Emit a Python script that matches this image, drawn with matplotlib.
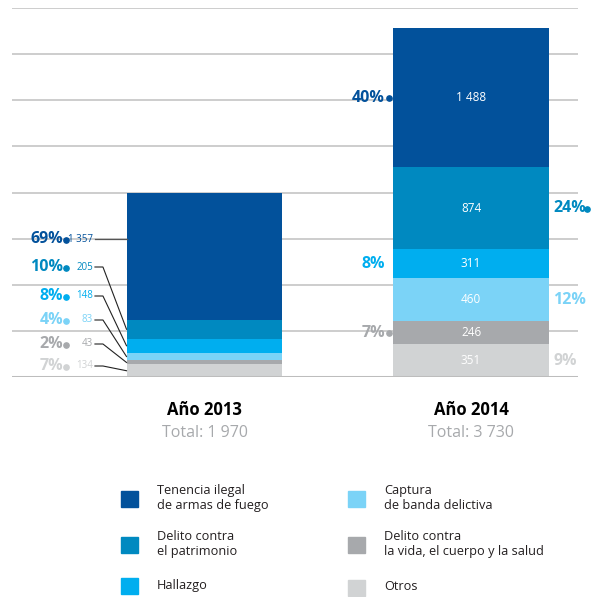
import matplotlib.pyplot as plt
from matplotlib.patches import Rectangle

plt.rcParams['font.family'] = ['Open Sans', 'DejaVu Sans']

# Datos
anios = ["Año 2013", "Año 2014"]
totales = ["Total: 1 970", "Total: 3 730"]
categorias = ["Tenencia ilegal\nde armas de fuego",
              "Delito contra\nel patrimonio",
              "Hallazgo",
              "Captura\nde banda delictiva",
              "Delito contra\nla vida, el cuerpo y la salud",
              "Otros"]
v2013 = [1357, 205, 148, 83, 43, 134]
v2014 = [1488, 874, 311, 460, 246, 351]
p2013 = ["69%", "10%", "8%", "4%", "2%", "7%"]
p2014 = ["40%", "24%", "8%", "12%", "7%", "9%"]
etq2013 = ["1 357", "205", "148", "83", "43", "134"]
etq2014 = ["1 488", "874", "311", "460", "246", "351"]

colores = ["#02519B", "#0089C0", "#00AEEF", "#7BD3F7", "#A7A9AC", "#D1D3D4"]

W, H = 591, 597
fig = plt.figure(figsize=(W / 100, H / 100), dpi=100)
ax = fig.add_axes([12 / W, (H - 377) / H, 566 / W, 369 / H])

ymax = 3730 * 369 / 349
ax.set_ylim(0, ymax)
ax.set_xlim(-0.722, 1.401)
ax.axis('off')

# lineas de fondo
for i in range(1, 9):
    ax.axhline(ymax * i / 8, color="#C9C9C9", lw=1.3, zorder=0)
ax.axhline(0, color="#BDBDBD", lw=2.2, zorder=3)

ancho = 0.585
# barras apiladas (de abajo hacia arriba: Otros primero)
pos2013 = {}
pos2014 = {}
base = 0
for i in reversed(range(6)):
    ax.bar(0, v2013[i], width=ancho, bottom=base, color=colores[i], zorder=2)
    pos2013[i] = base + v2013[i] / 2
    base += v2013[i]
base = 0
for i in reversed(range(6)):
    ax.bar(1, v2014[i], width=ancho, bottom=base, color=colores[i], zorder=2)
    pos2014[i] = base + v2014[i] / 2
    base += v2014[i]


def dx(px):
    return (px - 204.5) / 266.5


def dy(py):
    return (377 - py) * ymax / 369


# etiquetas 2013 (a la izquierda con lineas guia)
y_etq = [239, 267, 296, 320, 344, 366]
for i in range(6):
    y = dy(y_etq[i])
    ax.text(dx(63), y, p2013[i], ha='right', va='center', fontsize=11.5,
            fontweight='bold', color=colores[i], clip_on=False)
    ax.plot(dx(66.5), y - 8, 'o', ms=3.8, color=colores[i], clip_on=False)
    ax.text(dx(93), y, etq2013[i], ha='right', va='center', fontsize=7,
            color=colores[i], clip_on=False)
    if i == 0:
        ax.plot([dx(95), -ancho / 2], [y, y], color="#555555", lw=0.9,
                clip_on=False, zorder=4)
    else:
        ax.plot([dx(95), dx(103), -ancho / 2], [y, y, pos2013[i]],
                color="#222222", lw=0.8, clip_on=False, zorder=4)

# etiquetas 2014
lado = ["izq", "der", "izq", "der", "izq", "der"]
punto = [True, True, False, False, True, False]
for i in range(6):
    y = pos2014[i]
    ax.text(1, y, etq2014[i], ha='center', va='center', fontsize=8.5,
            color='white', zorder=5)
    if lado[i] == "izq":
        ax.text(dx(385), y, p2014[i], ha='right', va='center', fontsize=11.5,
                fontweight='bold', color=colores[i], clip_on=False, zorder=5)
        if punto[i]:
            ax.plot(dx(388.5), y - 8, 'o', ms=3.8, color=colores[i],
                    clip_on=False, zorder=5)
    else:
        ax.text(dx(553), y, p2014[i], ha='left', va='center', fontsize=11.5,
                fontweight='bold', color=colores[i], clip_on=False)
        if punto[i]:
            ax.plot(dx(587), y - 8, 'o', ms=3.8, color=colores[i],
                    clip_on=False)

# titulos de cada barra
for k, xc in enumerate([204.5, 471]):
    fig.text(xc / W, 1 - 410 / H, anios[k], ha='center', va='center',
             fontsize=12, fontweight='bold', color='black')
    fig.text(xc / W, 1 - 433 / H, totales[k], ha='center', va='center',
             fontsize=11.5, color="#A7A9AC")

# leyenda
xs_cuadro = [121, 121, 121, 348, 348, 348]
ys_cuadro = [499, 545, 586, 499, 545, 588]
for i in range(6):
    fig.patches.append(Rectangle((xs_cuadro[i] / W, 1 - (ys_cuadro[i] + 8) / H),
                                 17 / W, 16 / H, color=colores[i],
                                 transform=fig.transFigure, figure=fig))
    fig.text((xs_cuadro[i] + 36) / W, 1 - (ys_cuadro[i] - 1) / H, categorias[i],
             ha='left', va='center', fontsize=9.2, color="#231F20",
             linespacing=1.2)

plt.savefig("out.png", dpi=100)
